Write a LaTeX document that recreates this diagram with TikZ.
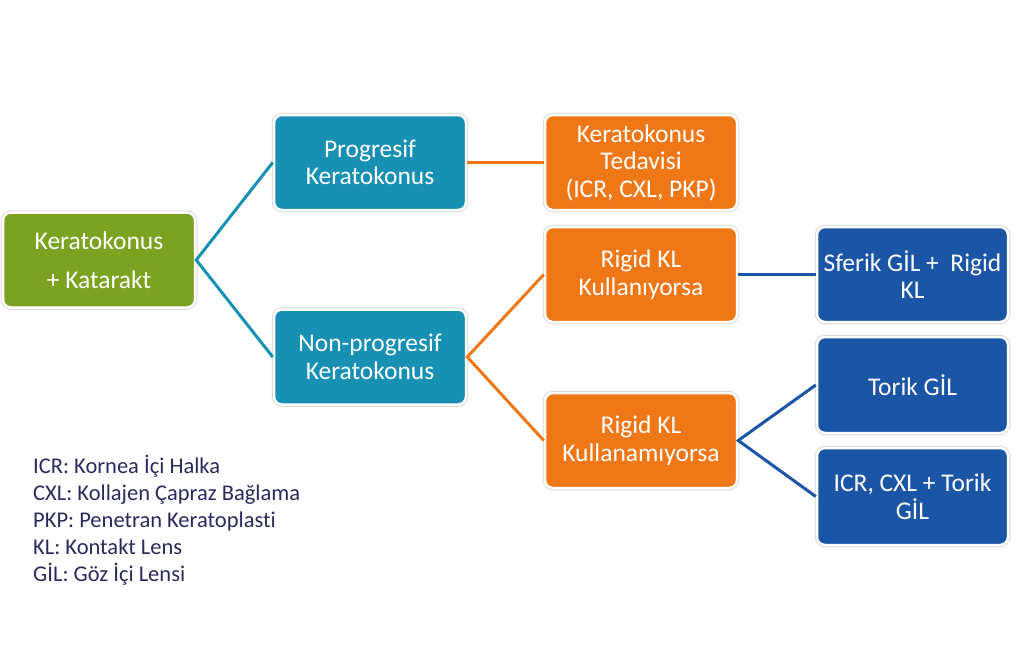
\documentclass[tikz,border=0pt]{standalone}
\usepackage{fontspec}
\setmainfont{Carlito}[Ligatures={NoCommon,NoRequired,NoContextual}]
\definecolor{cgreen}{HTML}{7BA321}
\definecolor{cteal}{HTML}{1790B3}
\definecolor{corange}{HTML}{F07716}
\definecolor{cblue}{HTML}{1B55A5}
\definecolor{cnavy}{HTML}{2A2A5C}
\tikzset{
  box/.style={rectangle, rounded corners=8pt, minimum width=192pt, minimum height=95pt,
    text width=188pt, align=flush center, inner sep=0pt, text=white,
    font=\fontsize{25.5}{27.5}\selectfont,
    preaction={draw=black!14, line width=4.5pt}, draw=white, line width=2.5pt},
  gbox/.style={box, fill=cgreen},
  tbox/.style={box, fill=cteal},
  obox/.style={box, fill=corange},
  bbox/.style={box, fill=cblue},
  conn/.style={line width=3pt},
  legend/.style={anchor=base west, inner sep=0pt, text=cnavy, font=\fontsize{22.5}{27}\selectfont}
}
\begin{document}
\begin{tikzpicture}[x=1pt,y=-1pt]
\useasboundingbox (0,0) rectangle (1024,659);
\node[gbox] (kk) at (99,260) {Keratokonus\\[12pt]+ Katarakt};
\node[tbox] (pk) at (370,162.5) {Progresif\\Keratokonus};
\node[tbox] (npk) at (370,357) {Non-progresif\\Keratokonus};
\node[obox] (ted) at (641,162.5) {Keratokonus\\Tedavisi\\(ICR, CXL, PKP)};
\node[obox] (r1) at (641,274.5) {Rigid KL\\Kullanıyorsa};
\node[obox] (r2) at (641,440.5) {Rigid KL\\Kullanamıyorsa};
\node[bbox, minimum width=191pt] (sf) at (912.5,274.5) {Sferik GİL +\ \ Rigid\\KL};
\node[bbox, minimum width=191pt, minimum height=96pt] (tg) at (912.5,385) {Torik GİL};
\node[bbox, minimum width=191pt, minimum height=97pt] (ig) at (912.5,496.5) {ICR, CXL + Torik\\GİL};
\draw[conn, cteal] (pk.west) -- (kk.east) -- (npk.west);
\draw[conn, corange] (pk.east) -- (ted.west);
\draw[conn, corange] (r1.west) -- (npk.east) -- (r2.west);
\draw[conn, cblue] (r1.east) -- (sf.west);
\draw[conn, cblue] (tg.west) -- (r2.east) -- (ig.west);
\node[legend] (l1) at (33,473) {ICR: Kornea İçi Halka};
\node[legend] (l2) at (33,500) {CXL: Kollajen Çapraz Bağlama};
\node[legend] (l3) at (33,527) {PKP: Penetran Keratoplasti};
\node[legend] (l4) at (33,554) {KL: Kontakt Lens};
\node[legend] (l5) at (33,581) {GİL: Göz İçi Lensi};
\end{tikzpicture}
\end{document}
